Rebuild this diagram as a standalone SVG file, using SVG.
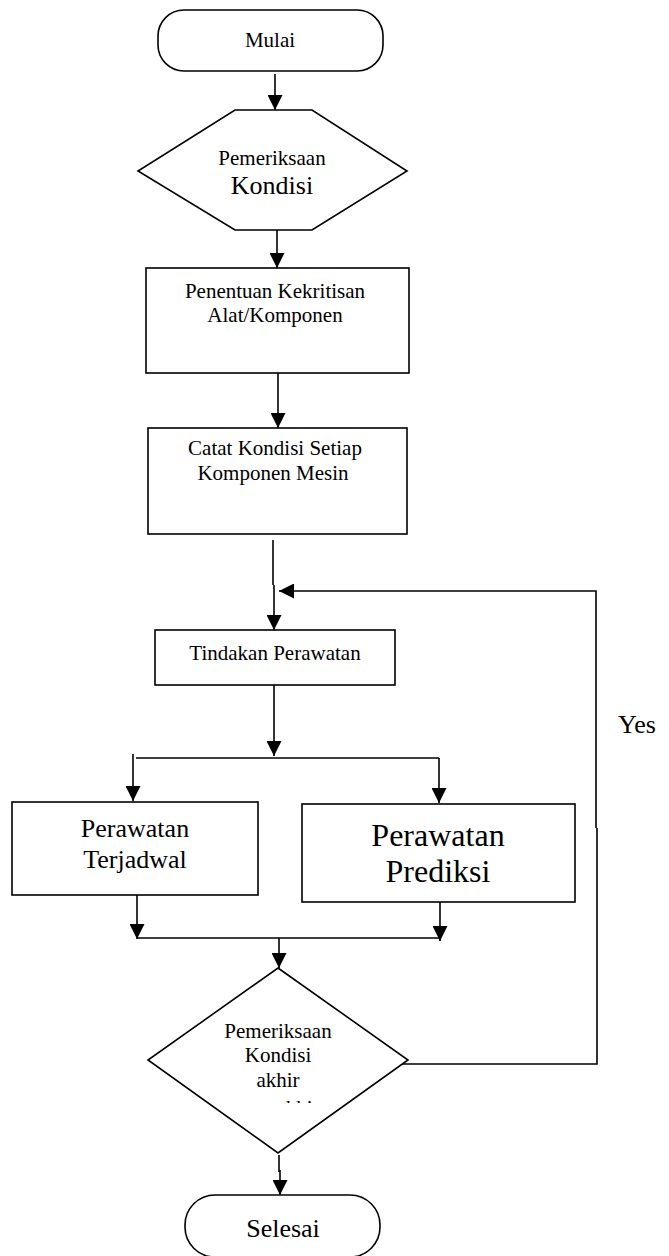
<svg xmlns="http://www.w3.org/2000/svg" width="669" height="1256" viewBox="0 0 669 1256">
<style>
.shape{fill:#fff;stroke:#000;stroke-width:1.6}
.ln{fill:none;stroke:#000;stroke-width:1.6}
.arr{marker-end:url(#ah)}
text{font-family:"Liberation Serif","Times New Roman",Tinos,"DejaVu Serif",serif;fill:#000;text-anchor:middle}
.s21{font-size:21px}
.s26{font-size:26px}
.s32{font-size:32px}
</style>
<defs>
<marker id="ah" viewBox="0 0 15 15" refX="15" refY="7.5" markerWidth="15" markerHeight="15" markerUnits="userSpaceOnUse" orient="auto">
<path d="M0,0 L15,7.5 L0,15 z" fill="#000"/>
</marker>
<clipPath id="clipHidden"><rect x="260" y="1099" width="80" height="4"/></clipPath>
</defs>
<rect width="669" height="1256" fill="#fff"/>
<g id="connectors">
<path class="ln arr" d="M275,74 V110"/>
<path class="ln arr" d="M277,230 V268"/>
<path class="ln arr" d="M278,373 V428"/>
<path class="ln" d="M273,540 V585"/>
<path class="ln arr" d="M274,585 V630"/>
<path class="ln arr" d="M395,1064 H597 V828 M596,828 V591 H279"/>
<path class="ln arr" d="M274,685 V756"/>
<path class="ln" d="M136,758 H439"/>
<path class="ln arr" d="M133,754 V801"/>
<path class="ln arr" d="M439,758 V803"/>
<path class="ln arr" d="M137,895 V939"/>
<path class="ln arr" d="M440,902 V941"/>
<path class="ln" d="M137,938 H440"/>
<path class="ln arr" d="M279,938 V968"/>
<path class="ln" d="M279,1155 V1172"/>
<path class="ln arr" d="M280,1170 V1195"/>
</g>
<g id="mulai">
<rect class="shape" x="158" y="10" width="225" height="61" rx="26" ry="26"/>
<text class="s21" x="270" y="47">Mulai</text>
</g>
<g id="pemeriksaan-kondisi">
<polygon class="shape" points="235,110 312,110 407,171 312,230 235,230 138,171"/>
<text class="s21" x="272" y="165">Pemeriksaan</text>
<text class="s26" x="272" y="194">Kondisi</text>
</g>
<g id="penentuan">
<rect class="shape" x="146" y="268" width="263" height="105"/>
<text class="s21" x="275" y="298">Penentuan Kekritisan</text>
<text class="s21" x="275" y="322">Alat/Komponen</text>
</g>
<g id="catat">
<rect class="shape" x="148" y="428" width="259" height="106"/>
<text class="s21" x="275" y="455">Catat Kondisi Setiap</text>
<text class="s21" x="273" y="480">Komponen Mesin</text>
</g>
<g id="tindakan">
<rect class="shape" x="155" y="630" width="240" height="55"/>
<text class="s21" x="275" y="660">Tindakan Perawatan</text>
</g>
<g id="terjadwal">
<rect class="shape" x="12" y="802" width="246" height="93"/>
<text class="s26" x="135" y="837">Perawatan</text>
<text class="s26" x="135" y="868">Terjadwal</text>
</g>
<g id="prediksi">
<rect class="shape" x="302" y="804" width="273" height="98"/>
<text class="s32" x="438" y="846">Perawatan</text>
<text class="s32" x="438" y="882">Prediksi</text>
</g>
<g id="kondisi-akhir">
<polygon class="shape" points="278,968 408,1060 278,1153 148,1060"/>
<text class="s21" x="278" y="1038">Pemeriksaan</text>
<text class="s21" x="278" y="1062">Kondisi</text>
<text class="s21" x="278" y="1087">akhir</text>
<text class="s21" x="298" y="1115" clip-path="url(#clipHidden)">akhir</text>
</g>
<g id="yes-label">
<text class="s26" x="637" y="733">Yes</text>
</g>
<g id="selesai">
<rect class="shape" x="185" y="1195" width="195" height="62" rx="30" ry="30"/>
<text class="s26" x="283" y="1237">Selesai</text>
</g>
</svg>
